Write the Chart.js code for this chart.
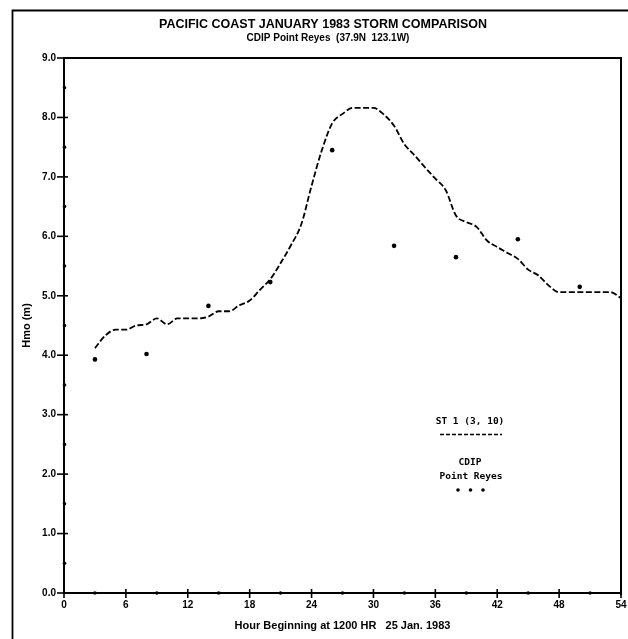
<!DOCTYPE html>
<html>
<head>
<meta charset="utf-8">
<script src="https://cdn.jsdelivr.net/npm/chart.js@4.4.1/dist/chart.umd.min.js"></script>
<style>
  html, body { margin: 0; padding: 0; background: #fff; }
  #wrap { width: 628px; height: 639px; position: relative; }
</style>
</head>
<body>
<div id="wrap"><canvas id="c" width="628" height="639"></canvas></div>
<script>
// Hindcast model run ST 1 (3, 10): hourly Hmo (m)
const modelHours = [3, 4, 5, 6, 7, 8, 9, 10, 11, 12, 13, 14, 15, 16, 17, 18, 19, 20, 21, 22,
  23, 24, 25, 26, 27, 28, 29, 30, 31, 32, 33, 34, 35, 36, 37, 38, 39, 40, 41, 42,
  43, 44, 45, 46, 47, 48, 49, 50, 51, 52, 53, 54];
const modelHmo = [4.12, 4.33, 4.43, 4.43, 4.50, 4.52, 4.62, 4.52, 4.62, 4.62, 4.62, 4.65, 4.74, 4.74, 4.84, 4.92, 5.10, 5.28, 5.55, 5.85,
  6.20, 6.85, 7.45, 7.90, 8.06, 8.16, 8.16, 8.16, 8.05, 7.86, 7.55, 7.36, 7.16, 6.97, 6.78, 6.35, 6.24, 6.16, 5.93, 5.82,
  5.72, 5.62, 5.44, 5.34, 5.17, 5.06, 5.06, 5.06, 5.06, 5.06, 5.06, 4.96];

// CDIP Point Reyes buoy observations
const buoyHours = [3, 8, 14, 20, 26, 32, 38, 44, 50];
const buoyHmo = [3.93, 4.02, 4.83, 5.23, 7.45, 5.84, 5.65, 5.95, 5.15];

// Axis tick values
const hourTicks = [0, 6, 12, 18, 24, 30, 36, 42, 48, 54];
const hmoTicks = [0.0, 1.0, 2.0, 3.0, 4.0, 5.0, 6.0, 7.0, 8.0, 9.0];

const titleText = 'PACIFIC COAST JANUARY 1983 STORM COMPARISON';
const subtitleText = 'CDIP Point Reyes  (37.9N  123.1W)';
const xTitle = 'Hour Beginning at 1200 HR   25 Jan. 1983';
const yTitle = 'Hmo (m)';
const legendModel = 'ST 1 (3, 10)';
const legendBuoy = ['CDIP', 'Point Reyes'];

const INK = '#000';
const SANS = "'Liberation Sans', Arial, sans-serif";
const MONO = "'DejaVu Sans Mono', 'Liberation Mono', monospace";

const near = (v, list) => list.some(t => Math.abs(t - v) < 1e-6);

// Frame, plot box, crossing tick marks, titles and legend
const decor = {
  id: 'decor',
  afterDraw(chart) {
    const ctx = chart.ctx;
    const a = chart.chartArea;
    const xs = chart.scales.x, ys = chart.scales.y;
    ctx.save();
    ctx.strokeStyle = INK;
    ctx.fillStyle = INK;

    // outer frame
    ctx.lineWidth = 1.8;
    ctx.beginPath();
    ctx.moveTo(12.5, 639);
    ctx.lineTo(12.5, 10.5);
    ctx.lineTo(628, 10.5);
    ctx.stroke();

    // plot box top and right edges
    ctx.lineWidth = 2;
    ctx.beginPath();
    ctx.moveTo(a.left, a.top);
    ctx.lineTo(a.right, a.top);
    ctx.lineTo(a.right, a.bottom + 2);
    ctx.stroke();

    // y ticks: major crosses, minor dots
    ctx.lineWidth = 1.6;
    ys.ticks.forEach(t => {
      const py = ys.getPixelForValue(t.value);
      if (near(t.value, hmoTicks)) {
        ctx.beginPath();
        ctx.moveTo(a.left - 7, py);
        ctx.lineTo(a.left + 4, py);
        ctx.stroke();
      } else {
        ctx.beginPath();
        ctx.arc(a.left + 0.5, py, 1.8, 0, Math.PI * 2);
        ctx.fill();
      }
    });
    // x ticks
    xs.ticks.forEach(t => {
      const px = xs.getPixelForValue(t.value);
      if (near(t.value, hourTicks)) {
        ctx.beginPath();
        ctx.moveTo(px, a.bottom - 4);
        ctx.lineTo(px, a.bottom + 5);
        ctx.stroke();
      } else {
        ctx.beginPath();
        ctx.arc(px, a.bottom, 1.8, 0, Math.PI * 2);
        ctx.fill();
      }
    });

    // titles
    ctx.textAlign = 'center';
    ctx.textBaseline = 'middle';
    ctx.font = 'bold 12.5px ' + SANS;
    ctx.fillText(titleText, 323, 25);
    ctx.font = 'bold 10px ' + SANS;
    ctx.fillText(subtitleText, 328, 38);

    // legend
    ctx.font = 'bold 9.5px ' + MONO;
    ctx.fillText(legendModel, 470, 422);
    ctx.lineWidth = 1.5;
    ctx.setLineDash([4, 2]);
    ctx.beginPath();
    ctx.moveTo(440, 434.5);
    ctx.lineTo(502, 434.5);
    ctx.stroke();
    ctx.setLineDash([]);
    ctx.fillText(legendBuoy[0], 470, 463);
    ctx.fillText(legendBuoy[1], 471, 477);
    [458, 470.5, 483].forEach(dx => {
      ctx.beginPath();
      ctx.arc(dx, 490, 1.8, 0, Math.PI * 2);
      ctx.fill();
    });
    ctx.restore();
  }
};

new Chart(document.getElementById('c'), {
  type: 'line',
  data: {
    datasets: [
      {
        label: legendModel,
        data: modelHours.map((h, i) => ({ x: h, y: modelHmo[i] })),
        borderColor: INK,
        borderWidth: 1.8,
        borderDash: [6, 2.5],
        pointRadius: 0,
        fill: false,
        cubicInterpolationMode: 'monotone'
      },
      {
        label: legendBuoy.join(' '),
        data: buoyHours.map((h, i) => ({ x: h, y: buoyHmo[i] })),
        showLine: false,
        pointRadius: 2.3,
        pointBackgroundColor: INK,
        pointBorderColor: INK,
        pointBorderWidth: 0
      }
    ]
  },
  options: {
    responsive: false,
    animation: false,
    layout: { padding: { top: 58, right: 7, bottom: 0, left: 0 } },
    plugins: {
      legend: { display: false },
      tooltip: { enabled: false }
    },
    scales: {
      x: {
        type: 'linear',
        min: 0,
        max: 54,
        afterFit: s => { s.height = 46; s.paddingLeft = 0; s.paddingRight = 0; },
        ticks: {
          stepSize: 3,
          autoSkip: false,
          maxRotation: 0,
          padding: 6,
          color: INK,
          font: { family: SANS, size: 10, weight: 'bold' },
          callback: v => near(v, hourTicks) ? String(v) : ''
        },
        grid: { display: true, drawOnChartArea: false, drawTicks: false },
        border: { display: true, color: INK, width: 2 },
        title: {
          display: true,
          text: xTitle,
          color: INK,
          font: { family: SANS, size: 11, weight: 'bold' },
          padding: { top: 4, bottom: 6 }
        }
      },
      y: {
        min: 0,
        max: 9,
        afterFit: s => { s.width = 64; s.paddingTop = 0; s.paddingBottom = 0; },
        ticks: {
          stepSize: 0.5,
          autoSkip: false,
          padding: 8,
          color: INK,
          font: { family: SANS, size: 10, weight: 'bold' },
          callback: v => near(v, hmoTicks) ? v.toFixed(1) : ''
        },
        grid: { display: true, drawOnChartArea: false, drawTicks: false },
        border: { display: true, color: INK, width: 2 },
        title: {
          display: true,
          text: yTitle,
          color: INK,
          font: { family: SANS, size: 11, weight: 'bold' },
          padding: { top: 20, bottom: 0 }
        }
      }
    }
  },
  plugins: [decor]
});
</script>
</body>
</html>
